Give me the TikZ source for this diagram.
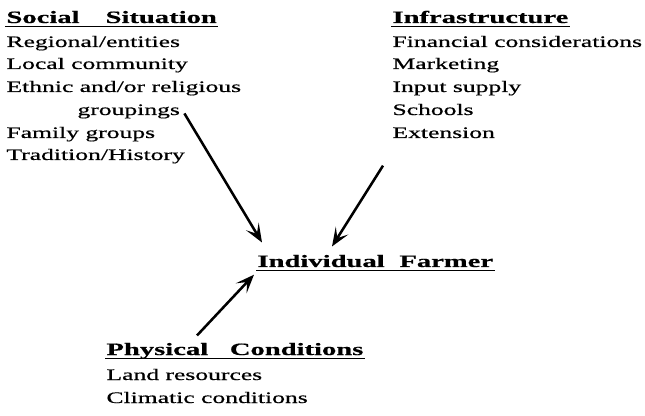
\documentclass[tikz,border=0pt]{standalone}
\usepackage{fontspec}
\setmainfont{Liberation Serif}[FakeStretch=1.6,FakeBold=0.6]
\usetikzlibrary{arrows.meta}

\tikzset{every picture/.style={line width=0.75pt}}
\tikzset{
  txt/.style={anchor=base west,inner sep=0.75pt,font=\fontsize{12}{14}\selectfont},
  hd/.style={txt,font=\fontsize{13}{15}\selectfont\bfseries\addfontfeatures{FakeStretch=1.65}},
  ul/.style={line width=1.1pt},
  arr/.style={line width=1.9pt,-{Stealth[length=14pt,width=11pt,inset=6.5pt]}}
}

\begin{document}
\begin{tikzpicture}[x=0.75pt,y=0.75pt,yscale=-1,xscale=1]
\path[use as bounding box] (0,0) rectangle (645,416);

% Social Situation
\draw (5,23) node [hd] (soc) {Social\hspace{1.5em}Situation};
\draw (5,47) node [txt] (reg) {Regional/entities};
\draw (5,69) node [txt] (loc) {Local community};
\draw (5,92) node [txt] (eth) {Ethnic and/or religious};
\draw (76,115) node [txt] (grp) {groupings};
\draw (5,138) node [txt] (fam) {Family groups};
\draw (5,160) node [txt] (tra) {Tradition/History};

% Infrastructure
\draw (391,23) node [hd] (inf) {Infrastructure};
\draw (391,47) node [txt] (fin) {Financial considerations};
\draw (391,69) node [txt] (mkt) {Marketing};
\draw (391,92) node [txt] (inp) {Input supply};
\draw (391,115) node [txt] (sch) {Schools};
\draw (391,138) node [txt] (ext) {Extension};

% Individual Farmer
\draw (256,267) node [hd] (far) {Individual\hspace{0.85em}Farmer};

% Physical Conditions
\draw (105,355) node [hd] (phy) {Physical\hspace{1.25em}Conditions};
\draw (105,380) node [txt] (lnd) {Land resources};
\draw (105,403) node [txt] (cli) {Climatic conditions};

% underlines
\foreach \n in {soc,inf,far,phy}
  \draw [ul] ([shift={(0,3.5)}]\n.base west) -- ([shift={(0,3.5)}]\n.base east);

% arrows
\coordinate (a1) at ([shift={(3,2)}]grp.east);
\coordinate (a2) at ([shift={(6,-11)}]far.north west);
\coordinate (b1) at ([shift={(-8,26)}]ext.south west);
\coordinate (b2) at ([shift={(76,-7)}]far.north west);
\coordinate (c1) at ([shift={(92,-6)}]phy.north west);
\coordinate (c2) at ([shift={(-2,6)}]far.south west);
\draw [arr] (a1) -- (a2);
\draw [arr] (b1) -- (b2);
\draw [arr] (c1) -- (c2);

\end{tikzpicture}
\end{document}
